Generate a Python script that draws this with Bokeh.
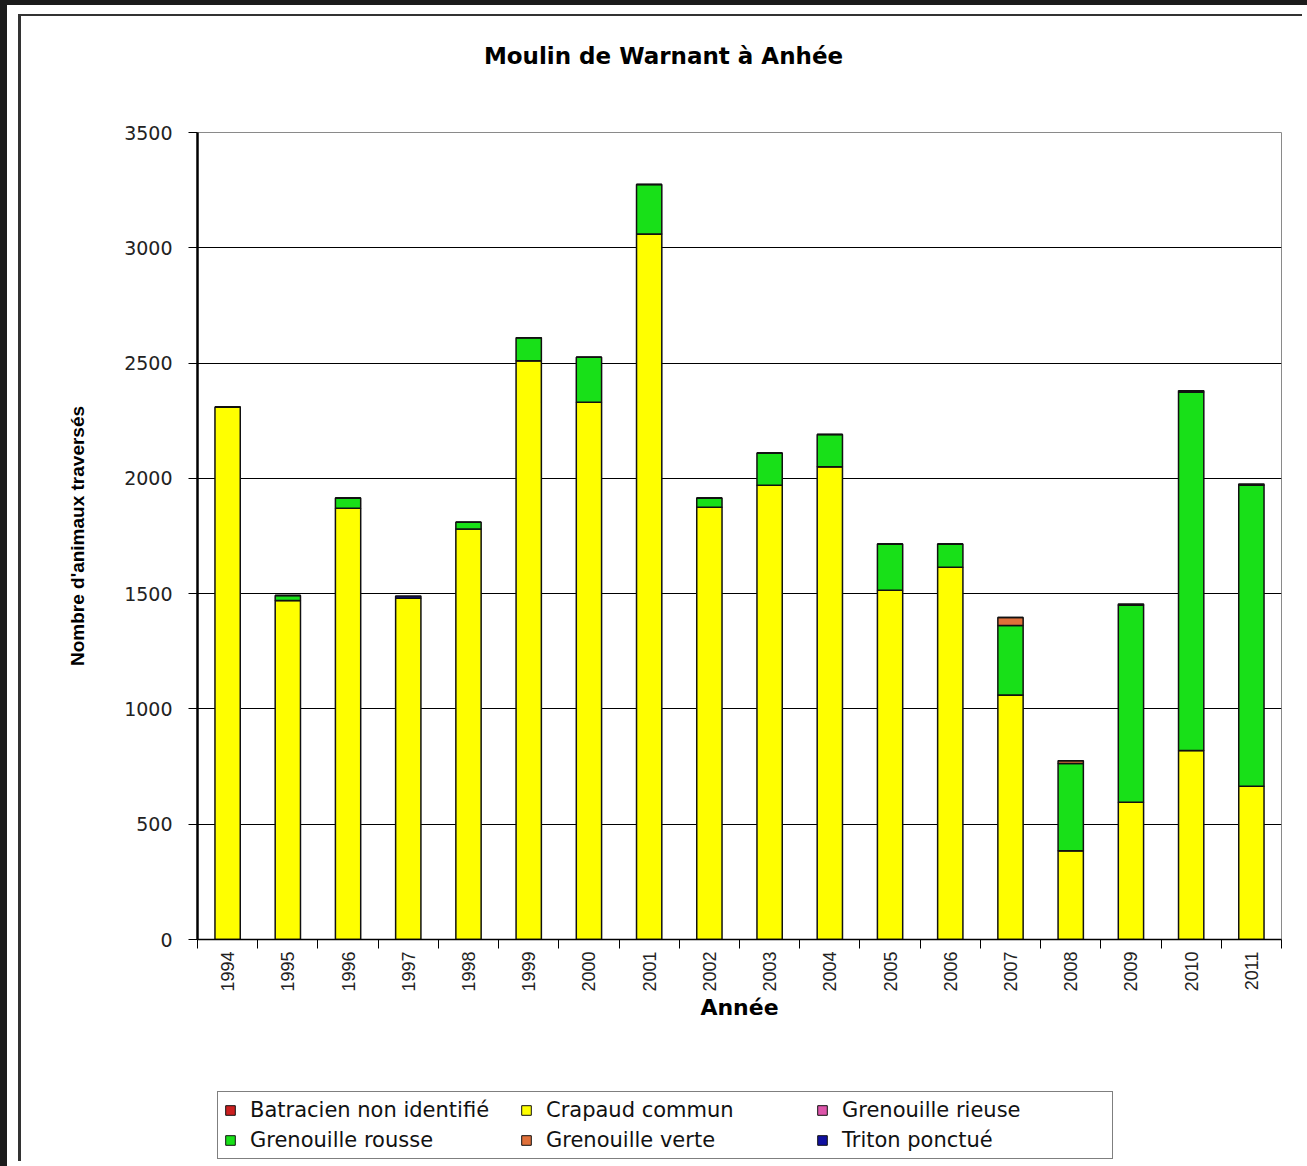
import math
from bokeh.plotting import figure
from bokeh.layouts import column
from bokeh.models import (Range1d, FixedTicker, Legend, LegendItem, Label,
                          ColumnDataSource, GlobalInlineStyleSheet)
from bokeh.embed import file_html
from bokeh.resources import INLINE

# ---------------- data ----------------
years = ["1994", "1995", "1996", "1997", "1998", "1999", "2000", "2001", "2002",
         "2003", "2004", "2005", "2006", "2007", "2008", "2009", "2010", "2011"]
batracien = [0, 0, 0, 0, 0, 0, 0, 0, 0, 0, 0, 0, 0, 0, 0, 0, 0, 0]
crapaud = [2310, 1470, 1870, 1480, 1780, 2510, 2330, 3060, 1875,
           1970, 2050, 1515, 1615, 1060, 385, 595, 820, 665]
rieuse = [0, 0, 0, 0, 0, 0, 0, 0, 0, 0, 0, 0, 0, 0, 0, 0, 0, 0]
rousse = [0, 22, 45, 0, 30, 100, 195, 215, 40,
          140, 140, 200, 100, 302, 378, 855, 1555, 1305]
verte = [0, 0, 0, 0, 0, 0, 0, 0, 0, 0, 0, 0, 0, 35, 12, 0, 0, 0]
triton = [0, 0, 0, 10, 0, 0, 0, 0, 0, 0, 0, 0, 0, 0, 0, 5, 5, 5]

series_names = ["Batracien non identifié", "Crapaud commun", "Grenouille rieuse",
                "Grenouille rousse", "Grenouille verte", "Triton ponctué"]
series_keys = ["batracien", "crapaud", "rieuse", "rousse", "verte", "triton"]
series_colors = ["#CC2020", "#FFFF00", "#DD55AA", "#18E018", "#E0703A", "#1010A0"]
y_ticks = [0, 500, 1000, 1500, 2000, 2500, 3000, 3500]
chart_title = "Moulin de Warnant à Anhée"

# ---------------- page style ----------------
page_css = GlobalInlineStyleSheet(css="""
html { background: white !important; }
body {
  background: white !important;
  margin: 0 !important;
  border-left: 7px solid #1b1b1b !important;
  border-top: 5px solid #1b1b1b !important;
  padding: 11px 0 0 14px !important;
  overflow: hidden !important;
}
""")

W = 1284

# ---------------- title strip ----------------
tf = figure(width=W, height=60, x_range=Range1d(0, 1), y_range=Range1d(0, 1),
            x_axis_type=None, y_axis_type=None, output_backend="svg",
            toolbar_location=None, min_border_left=0, min_border_right=0,
            min_border_top=0, min_border_bottom=0)
tf.outline_line_color = None
tf.xgrid.visible = False
tf.ygrid.visible = False
tf.add_layout(Label(x=466, y=21, x_units="screen", y_units="screen",
                    text=chart_title, text_align="center", text_baseline="middle",
                    text_font="DejaVu Sans", text_font_style="bold",
                    text_font_size="23px", text_color="black"))

# ---------------- chart ----------------
n = len(years)
centers = [i + 0.5 for i in range(n)]
src = ColumnDataSource(dict(x=centers, batracien=batracien, crapaud=crapaud,
                            rieuse=rieuse, rousse=rousse, verte=verte, triton=triton))

p = figure(width=W, height=1009, x_range=Range1d(0, n), y_range=Range1d(0, 3500),
           output_backend="svg", toolbar_location=None,
           min_border_left=176, min_border_right=24, min_border_top=56,
           min_border_bottom=146)
p.background_fill_color = "white"
p.border_fill_color = "white"
p.outline_line_color = "#8a8a8a"
p.outline_line_width = 1

p.vbar_stack(series_keys, x="x", width=0.42, source=src,
             color=series_colors, line_color="#111111", line_width=1.5)

# y axis
p.yaxis.ticker = FixedTicker(ticks=y_ticks)
p.yaxis.axis_line_width = 2.5
p.yaxis.axis_line_color = "black"
p.yaxis.major_tick_out = 9
p.yaxis.major_tick_in = 0
p.yaxis.major_tick_line_color = "black"
p.yaxis.minor_tick_line_color = None
p.yaxis.major_label_standoff = 16
p.yaxis.major_label_text_font = "DejaVu Sans"
p.yaxis.major_label_text_font_size = "19px"
p.yaxis.major_label_text_color = "#222222"
p.yaxis.axis_label = "Nombre d'animaux traversés"
p.yaxis.axis_label_text_font = "Liberation Sans"
p.yaxis.axis_label_text_font_style = "bold"
p.yaxis.axis_label_text_font_size = "19px"
p.yaxis.axis_label_text_color = "black"
p.yaxis.axis_label_standoff = 33

p.ygrid.ticker = FixedTicker(ticks=y_ticks[1:-1])
p.ygrid.grid_line_color = "black"
p.ygrid.grid_line_width = 1
p.xgrid.visible = False

# x axis: labels at centres, ticks at category boundaries
p.xaxis.ticker = FixedTicker(ticks=centers, minor_ticks=list(range(n + 1)))
p.xaxis.major_label_overrides = {c: y for c, y in zip(centers, years)}
p.xaxis.major_tick_line_color = None
p.xaxis.major_tick_out = 0
p.xaxis.major_tick_in = 0
p.xaxis.minor_tick_line_color = "black"
p.xaxis.minor_tick_out = 9
p.xaxis.minor_tick_in = 0
p.xaxis.axis_line_color = "black"
p.xaxis.axis_line_width = 1.5
p.xaxis.major_label_orientation = math.pi / 2
p.xaxis.major_label_standoff = 3
p.xaxis.major_label_text_font = "Liberation Sans"
p.xaxis.major_label_text_font_size = "18px"
p.xaxis.major_label_text_color = "#222222"
p.xaxis.axis_label = "Année"
p.xaxis.axis_label_text_font = "DejaVu Sans"
p.xaxis.axis_label_text_font_style = "bold"
p.xaxis.axis_label_text_font_size = "22px"
p.xaxis.axis_label_text_color = "black"
p.xaxis.axis_label_standoff = 0

# ---------------- legend strip ----------------
lf = figure(width=W, height=78, x_range=Range1d(0, 1), y_range=Range1d(0, 1),
            x_axis_type=None, y_axis_type=None, output_backend="svg",
            toolbar_location=None, min_border_left=0, min_border_right=0,
            min_border_top=0, min_border_bottom=0)
lf.outline_line_color = None
lf.background_fill_color = "white"
lf.border_fill_color = "white"
lf.xgrid.visible = False
lf.ygrid.visible = False

swatches = {}
for name, col in zip(series_names, series_colors):
    # a tiny bar hidden behind the legend box, used only as the legend swatch
    swatches[name] = lf.vbar(x=[0.3], bottom=[0.4], top=[0.5], width=0.005,
                             fill_color=col, line_color="#111111", line_width=1)

# legend fills column by column; order so that rows read like the original
legend_order = ["Batracien non identifié", "Grenouille rousse",
                "Crapaud commun", "Grenouille verte",
                "Grenouille rieuse", "Triton ponctué"]
items = [LegendItem(label=nm, renderers=[swatches[nm]]) for nm in legend_order]

legend = Legend(items=items, ncols=3, location=(20, 4),
                border_line_color="black", border_line_width=1,
                background_fill_color="white", background_fill_alpha=1,
                glyph_width=12, glyph_height=12, label_standoff=14,
                label_width=264,
                label_text_font="DejaVu Sans", label_text_font_size="21px",
                label_text_color="#111111",
                label_height=24, spacing=6, padding=6, margin=0)
lf.add_layout(legend, "center")

layout = column(tf, p, lf, spacing=0)
layout.stylesheets = [page_css]
layout.styles = {"box-shadow": "-3px -2px 0 0 #333333"}

open("out.html", "w").write(file_html(layout, INLINE))
